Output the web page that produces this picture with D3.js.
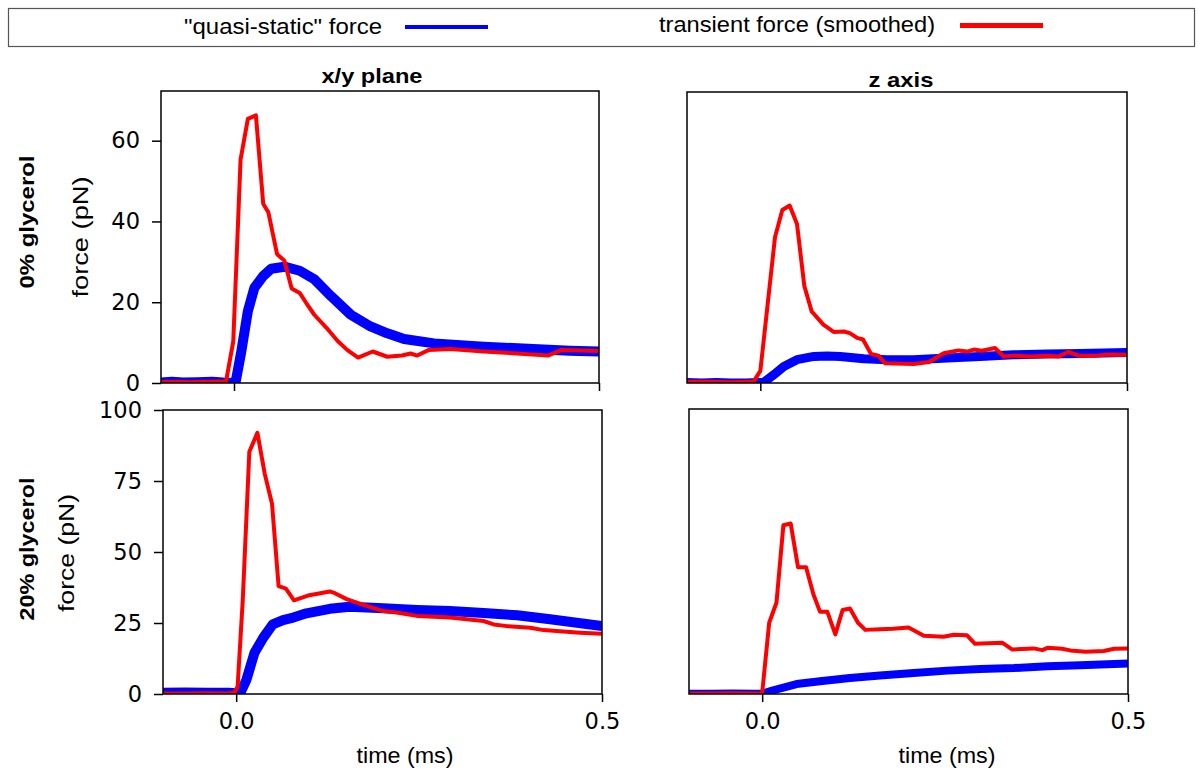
<!DOCTYPE html>
<html>
<head>
<meta charset="utf-8">
<script src="https://cdn.jsdelivr.net/npm/d3@7"></script>
<style>
  html, body { margin: 0; padding: 0; background: #fff; }
  svg { display: block; }
</style>
</head>
<body>
<svg id="chart" width="1198" height="769"></svg>
<script>
// ---------------- DATA ----------------
const legendLabels = ['"quasi-static" force', 'transient force (smoothed)'];
const columnTitles = ["x/y plane", "z axis"];
const rowLabels = ["0% glycerol", "20% glycerol"];
const yAxisLabel = "force (pN)";
const xAxisLabel = "time (ms)";
const xTicks = [0.0, 0.5];
const yTicksTop = [0, 20, 40, 60];
const yTicksBottom = [0, 25, 50, 75, 100];

// [time (ms), force (pN)]
const xy0Quasi = [[-0.1,0.1],[-0.085,0.3],[-0.07,0.1],[-0.05,0.2],[-0.03,0.3],[-0.015,0.1],[0,0.0],[0.002,0.0],[0.010,7.8],[0.019,17.8],[0.028,23.6],[0.040,26.5],[0.051,28.3],[0.069,28.8],[0.090,27.8],[0.110,25.7],[0.133,21.5],[0.160,16.9],[0.187,14.0],[0.210,12.3],[0.233,10.9],[0.274,9.8],[0.342,9.0],[0.410,8.4],[0.460,8.0],[0.5,7.8]];
const xy0Trans = [[-0.1,0.2],[-0.08,0.3],[-0.06,0.2],[-0.04,0.3],[-0.02,0.4],[-0.011,0.3],[-0.001,10.3],[0.009,55.3],[0.019,65.4],[0.030,66.3],[0.040,44.4],[0.047,42.3],[0.059,31.9],[0.069,30.3],[0.079,23.4],[0.090,22.3],[0.099,19.8],[0.110,16.9],[0.127,13.6],[0.142,10.4],[0.155,8.2],[0.170,6.3],[0.190,7.8],[0.210,6.5],[0.230,6.8],[0.242,7.3],[0.251,6.8],[0.267,8.2],[0.296,8.4],[0.342,7.8],[0.387,7.3],[0.430,6.8],[0.449,8.2],[0.5,7.9]];
const z0Quasi = [[-0.1,0.1],[-0.08,0.0],[-0.06,0.1],[-0.04,0.0],[-0.02,0.0],[0.005,0.2],[0.018,2.0],[0.032,4.1],[0.050,5.8],[0.073,6.6],[0.091,6.7],[0.109,6.6],[0.141,6.0],[0.173,5.8],[0.209,5.8],[0.255,6.2],[0.300,6.6],[0.345,7.0],[0.391,7.2],[0.436,7.3],[0.5,7.6]];
const z0Trans = [[-0.1,0.3],[-0.07,0.3],[-0.04,0.2],[-0.02,0.3],[-0.009,0.4],[0.0,3.0],[0.020,36.2],[0.030,43.0],[0.040,44.1],[0.050,39.5],[0.060,24.1],[0.070,17.8],[0.086,14.5],[0.100,12.7],[0.114,12.8],[0.122,12.4],[0.132,11.2],[0.140,10.8],[0.151,7.2],[0.161,6.8],[0.170,4.9],[0.209,4.7],[0.230,5.2],[0.250,7.4],[0.270,8.1],[0.282,7.8],[0.291,8.3],[0.302,8.0],[0.320,8.7],[0.332,6.6],[0.345,6.8],[0.368,6.6],[0.391,6.8],[0.407,6.6],[0.420,7.7],[0.434,6.8],[0.459,6.8],[0.473,7.1],[0.5,7.0]];
const xy20Quasi = [[-0.1,0.4],[-0.07,0.5],[-0.04,0.4],[-0.01,0.4],[0.0,0.3],[0.005,0.0],[0.014,5.0],[0.025,14.5],[0.037,19.8],[0.050,24.5],[0.064,26.0],[0.078,26.9],[0.096,28.4],[0.128,30.0],[0.155,30.7],[0.201,30.2],[0.247,29.6],[0.292,29.2],[0.338,28.5],[0.384,27.7],[0.429,26.3],[0.5,23.9]];
const xy20Trans = [[-0.1,0.2],[-0.07,0.2],[-0.04,0.3],[-0.01,0.2],[-0.002,0.6],[0.002,2.7],[0.009,33.0],[0.018,85.3],[0.029,92.0],[0.039,77.6],[0.049,67.0],[0.058,38.0],[0.068,37.1],[0.079,33.0],[0.100,34.8],[0.128,36.1],[0.135,35.5],[0.151,33.4],[0.174,31.4],[0.201,29.2],[0.219,28.7],[0.247,27.5],[0.292,26.9],[0.338,25.7],[0.352,24.5],[0.370,23.9],[0.402,23.3],[0.420,22.5],[0.438,22.2],[0.470,21.6],[0.5,21.2]];
const z20Quasi = [[-0.1,0.1],[-0.07,0.1],[-0.04,0.2],[-0.01,0.1],[0.0,0.1],[0.015,1.3],[0.047,3.5],[0.079,4.5],[0.120,5.6],[0.161,6.5],[0.207,7.4],[0.253,8.2],[0.298,8.8],[0.344,9.1],[0.390,9.7],[0.435,10.1],[0.5,10.7]];
const z20Trans = [[-0.1,0.2],[-0.07,0.2],[-0.04,0.3],[-0.01,0.2],[0.0,0.3],[0.0096,25.0],[0.0196,32.1],[0.029,59.2],[0.039,59.8],[0.049,44.5],[0.060,44.5],[0.070,35.0],[0.079,28.9],[0.089,28.9],[0.100,20.9],[0.110,29.5],[0.120,30.0],[0.131,25.0],[0.141,22.5],[0.161,22.7],[0.179,22.9],[0.200,23.3],[0.221,20.4],[0.248,20.1],[0.262,20.8],[0.280,20.6],[0.291,17.6],[0.328,18.0],[0.342,15.6],[0.371,16.0],[0.383,15.4],[0.390,16.2],[0.410,15.9],[0.421,15.3],[0.442,14.8],[0.467,15.1],[0.481,15.9],[0.5,16.0]];

// ---------------- LAYOUT ----------------
const svg = d3.select("#chart");
const SANS = "'Liberation Sans', Arial, sans-serif";
const TICKFONT = "'DejaVu Sans', sans-serif";
const BLUE = "#0000ff", RED = "#ff0000";

const panels = [
  { id: "tl", x0: 161, x1: 599, y0: 91, y1: 383, yMax: 72.3, yTicks: yTicksTop, showY: true, showXLabels: false, quasi: xy0Quasi, trans: xy0Trans, qw: 10 },
  { id: "tr", x0: 687, x1: 1127, y0: 92, y1: 383, yMax: 72.3, yTicks: yTicksTop, showY: false, showXLabels: false, quasi: z0Quasi, trans: z0Trans, qw: 9 },
  { id: "bl", x0: 163, x1: 602, y0: 410, y1: 694, yMax: 100, yTicks: yTicksBottom, showY: true, showXLabels: true, quasi: xy20Quasi, trans: xy20Trans, qw: 10 },
  { id: "br", x0: 689, x1: 1128, y0: 409, y1: 694, yMax: 100, yTicks: yTicksBottom, showY: false, showXLabels: true, quasi: z20Quasi, trans: z20Trans, qw: 8 }
];

const defs = svg.append("defs");

panels.forEach(p => {
  const x = d3.scaleLinear().domain([-0.1, 0.5]).range([p.x0, p.x1]);
  const y = d3.scaleLinear().domain([0, p.yMax]).range([p.y1, p.y0]);
  const line = d3.line().x(d => x(d[0])).y(d => y(d[1]));

  defs.append("clipPath").attr("id", "clip-" + p.id)
    .append("rect").attr("x", p.x0).attr("y", p.y0)
    .attr("width", p.x1 - p.x0).attr("height", p.y1 - p.y0);

  const g = svg.append("g").attr("clip-path", "url(#clip-" + p.id + ")");
  g.append("path").datum(p.quasi).attr("d", line)
    .attr("fill", "none").attr("stroke", BLUE).attr("stroke-width", p.qw)
    .attr("stroke-linejoin", "round");
  g.append("path").datum(p.trans).attr("d", line)
    .attr("fill", "none").attr("stroke", RED).attr("stroke-width", 4)
    .attr("stroke-linejoin", "round");

  // frame
  svg.append("rect").attr("x", p.x0).attr("y", p.y0)
    .attr("width", p.x1 - p.x0).attr("height", p.y1 - p.y0)
    .attr("fill", "none").attr("stroke", "#000").attr("stroke-width", 1.5);

  // x axis
  const xa = svg.append("g").attr("transform", `translate(0,${p.y1})`)
    .call(d3.axisBottom(x).tickValues(xTicks).tickSize(8).tickPadding(11)
      .tickFormat(p.showXLabels ? d3.format(".1f") : () => ""));
  xa.select(".domain").remove();
  xa.selectAll("line").attr("stroke", "#000").attr("stroke-width", 1.5);
  xa.selectAll("text").attr("font-family", TICKFONT).attr("font-size", 22.5).attr("fill", "#000");

  if (p.showY) {
    const ya = svg.append("g").attr("transform", `translate(${p.x0},0)`)
      .call(d3.axisLeft(y).tickValues(p.yTicks).tickSize(9).tickPadding(12).tickFormat(d3.format("d")));
    ya.select(".domain").remove();
    ya.selectAll("line").attr("stroke", "#000").attr("stroke-width", 1.5);
    ya.selectAll("text").attr("font-family", TICKFONT).attr("font-size", 22.5).attr("fill", "#000");
  }
});

// ---------------- TEXT ----------------
function label(txt, x, y, len, opts = {}) {
  const t = svg.append("text")
    .attr("font-family", SANS)
    .attr("font-size", opts.size || 22)
    .attr("font-weight", opts.bold ? "bold" : "normal")
    .attr("fill", "#000")
    .attr("text-anchor", "middle")
    .attr("textLength", len)
    .attr("lengthAdjust", "spacingAndGlyphs")
    .text(txt);
  if (opts.rotate) t.attr("transform", `translate(${x},${y}) rotate(-90)`);
  else t.attr("x", x).attr("y", y);
  return t;
}

// column titles
label(columnTitles[0], 372, 83, 101, { bold: true, size: 21 });
label(columnTitles[1], 901, 87, 65, { bold: true, size: 21 });

// row labels
label(rowLabels[0], 34, 222, 133, { bold: true, size: 21, rotate: true });
label(yAxisLabel, 88, 237, 121, { rotate: true });
label(rowLabels[1], 34, 549, 143, { bold: true, size: 21, rotate: true });
label(yAxisLabel, 74, 553, 118, { rotate: true });

// x axis labels
label(xAxisLabel, 405, 763, 97);
label(xAxisLabel, 947, 763, 97);

// ---------------- LEGEND ----------------
svg.append("rect").attr("x", 8.5).attr("y", 8.5).attr("width", 1186).attr("height", 38)
  .attr("fill", "#fff").attr("stroke", "#555").attr("stroke-width", 1.2);
label(legendLabels[0], 283, 34, 198);
svg.append("line").attr("x1", 405).attr("x2", 488).attr("y1", 27).attr("y2", 27)
  .attr("stroke", BLUE).attr("stroke-width", 4);
label(legendLabels[1], 797, 32, 276);
svg.append("line").attr("x1", 960).attr("x2", 1043).attr("y1", 25.5).attr("y2", 25.5)
  .attr("stroke", RED).attr("stroke-width", 5);
</script>
</body>
</html>
